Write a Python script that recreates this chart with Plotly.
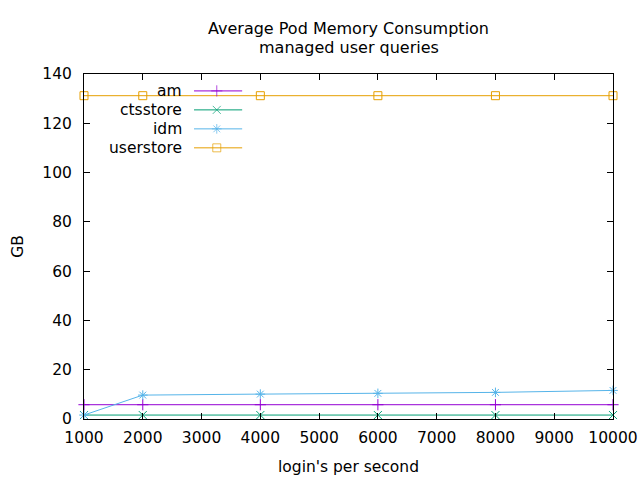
import plotly.graph_objects as go

x_logins = [1000, 2000, 4000, 6000, 8000, 10000]
am = [5.8, 5.8, 5.8, 5.8, 5.8, 5.8]
ctsstore = [1.6, 1.6, 1.6, 1.6, 1.6, 1.6]
idm = [1.6, 9.7, 10.1, 10.4, 10.8, 11.6]
userstore = [131.2, 131.2, 131.2, 131.2, 131.2, 131.2]

names = ["am", "ctsstore", "idm", "userstore"]
colors = ["#9400d3", "#009e73", "#56b4e9", "#e69f00"]
symbols = ["cross-thin-open", "x-thin-open", "asterisk-open", "square-open"]
series = [am, ctsstore, idm, userstore]

FONT = "DejaVu Sans"
FS = 15.5
fig = go.Figure()

for n, c, s, v in zip(names, colors, symbols, series):
    fig.add_trace(go.Scatter(
        x=x_logins, y=v, name=n, mode="lines+markers",
        line=dict(color=c, width=1),
        marker=dict(symbol=s, size=8, color=c, line=dict(color=c, width=1)),
        showlegend=False, cliponaxis=False,
    ))

# gnuplot-style key: text right-aligned, then sample line with marker
key_rows = [0.951, 0.896, 0.841, 0.786]
for n, c, s, ky in zip(names, colors, symbols, key_rows):
    fig.add_trace(go.Scatter(
        x=[0.208, 0.251, 0.299], y=[ky, ky, ky], mode="lines+markers",
        xaxis="x2", yaxis="y2",
        line=dict(color=c, width=1),
        marker=dict(symbol=s, size=[0, 8, 0], color=c, line=dict(color=c, width=1)),
        showlegend=False, hoverinfo="skip",
    ))
    fig.add_annotation(x=0.189, y=ky, xref="paper", yref="paper", text=n,
                       showarrow=False, xanchor="right", yanchor="middle",
                       font=dict(family=FONT, size=FS, color="black"))

fig.add_annotation(x=0.5, y=(419 - 47) / 345, xref="paper", yref="paper",
                   text="managed user queries", showarrow=False,
                   xanchor="center", yanchor="middle",
                   font=dict(family=FONT, size=16, color="black"))

axis_common = dict(showgrid=False, zeroline=False, showline=True, linecolor="black",
                   linewidth=1, mirror="ticks", ticks="inside", ticklen=6,
                   tickcolor="black", automargin=False,
                   tickfont=dict(family=FONT, size=FS, color="black"))

fig.update_layout(
    width=640, height=480,
    margin=dict(l=84, r=27, t=74, b=61),
    paper_bgcolor="white", plot_bgcolor="white",
    font=dict(family=FONT, size=FS, color="black"),
    title=dict(text="Average Pod Memory Consumption",
               x=(84 + 613) / 2 / 640, xanchor="center",
               y=1 - 28 / 480, yanchor="middle", yref="container",
               font=dict(family=FONT, size=16)),
    xaxis=dict(range=[1000, 10000], tickvals=list(range(1000, 10001, 1000)),
               tickformat="d", ticklabelstandoff=4,
               title=dict(text="login's per second", standoff=15,
                          font=dict(family=FONT, size=FS)), **axis_common),
    yaxis=dict(range=[0, 140], tickvals=list(range(0, 141, 20)),
               ticklabelstandoff=8,
               title=dict(text="GB", standoff=14,
                          font=dict(family=FONT, size=FS)), **axis_common),
    xaxis2=dict(overlaying="x", range=[0, 1], visible=False),
    yaxis2=dict(overlaying="y", range=[0, 1], visible=False),
)

fig.write_html("out.html", config={"displayModeBar": False},
               post_script="document.body.style.margin='0';")
